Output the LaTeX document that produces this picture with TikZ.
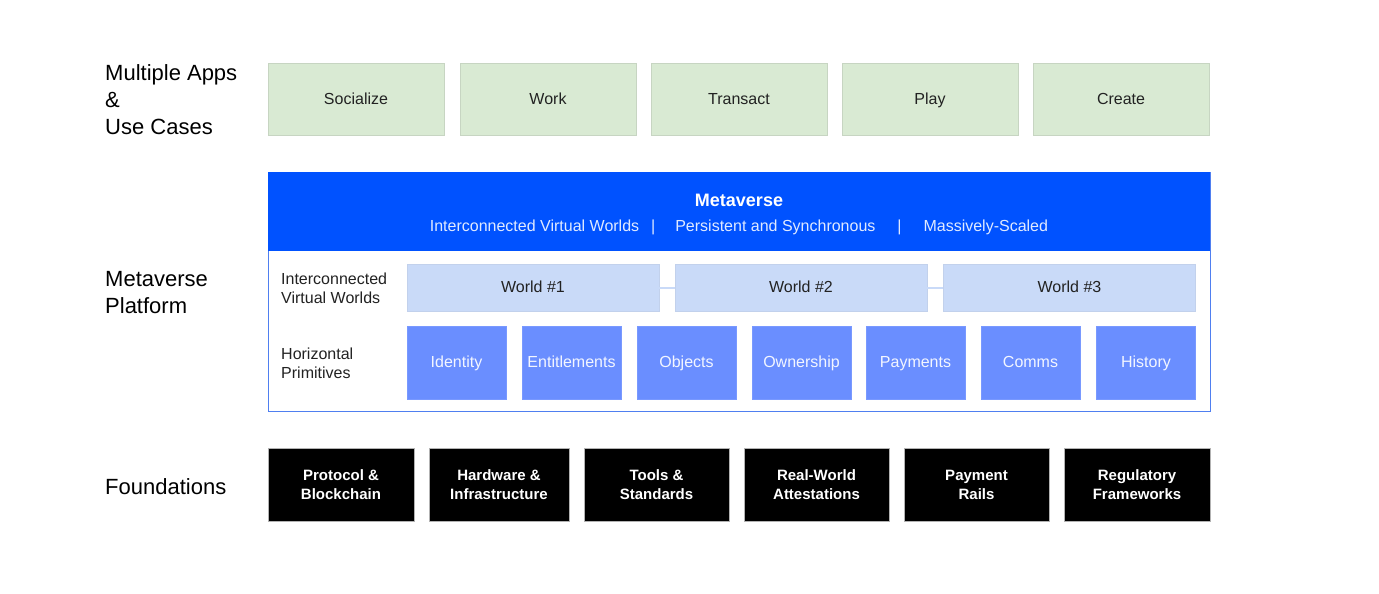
\documentclass[tikz,border=0pt]{standalone}
\usepackage{fontspec}
\setmainfont{Liberation Sans}
\usetikzlibrary{positioning}
\definecolor{appgreen}{HTML}{D9EAD3}
\definecolor{metablue}{HTML}{0052FF}
\definecolor{worldblue}{HTML}{C9DAF8}
\definecolor{primblue}{HTML}{6A8EFF}
\definecolor{edgeblue}{HTML}{4F7FF0}
\definecolor{darktext}{HTML}{222222}
\newcommand{\fs}[2]{\fontsize{#1}{#2}\selectfont}
\tikzset{
  layerlabel/.style={anchor=west,align=left,inner sep=0pt,text=black,font=\fs{22}{27}},
  rowlabel/.style={anchor=west,align=left,inner sep=0pt,text=darktext,font=\fs{16}{19}},
  onelabel/.style={text height=12.5pt,text depth=2.5pt},
  appbox/.style={onelabel,fill=appgreen,draw=appgreen!80!gray,line width=0.4pt,minimum width=176pt,minimum height=72pt,inner sep=0pt,text=darktext,font=\fs{16}{19}},
  worldbox/.style={onelabel,fill=worldblue,draw=worldblue!90!gray,line width=0.4pt,minimum width=252pt,minimum height=47pt,inner sep=0pt,text=darktext,font=\fs{16}{19}},
  primbox/.style={onelabel,fill=primblue,draw=primblue!90!white,line width=0.4pt,minimum width=99pt,minimum height=73pt,inner sep=0pt,text=white!92!primblue,font=\fs{16}{19}},
  foundbox/.style={fill=black,draw=gray!60,line width=0.4pt,minimum height=73pt,inner sep=0pt,align=center,text=white,font=\bfseries\fs{15}{19}},
  worldlink/.style={draw=worldblue,line width=2pt}
}
\begin{document}
\begin{tikzpicture}[x=1pt,y=-1pt]
      \useasboundingbox[fill=white] (0,0) rectangle (1379,594);

      % left column
      \node[layerlabel] (applabel) at (105,99.5) {Multiple Apps\\\&\\Use Cases};
      \node[layerlabel] (platlabel) at (105,293) {Metaverse\\Platform};
      \node[layerlabel] (foundlabel) at (105,486.5) {Foundations};

      % apps
      \node[appbox] (socialize) at (356,99) {Socialize};
      \node[appbox] (work) at (548,99) {Work};
      \node[appbox] (transact) at (739,99) {Transact};
      \node[appbox] (play) at (930,99) {Play};
      \node[appbox] (create) at (1121,99) {Create};

      % metaverse platform
      \draw[edgeblue,fill=white,line width=1pt] (268,172) rectangle (1210,411);
      \fill[metablue] (268,172) rectangle (1210,251);
      \node[text=white,font=\bfseries\fs{18}{22},inner sep=0pt] (metatitle) at (739,200.5) {Metaverse};
      \node[text=white!88!metablue,font=\fs{16}{19},inner sep=0pt] (metasub) at (739,227)
        {Interconnected Virtual Worlds\hspace{12pt}|\hspace{20pt}Persistent and Synchronous\hspace{22pt}|\hspace{22pt}Massively-Scaled};

      \node[rowlabel] (worldslabel) at (281,288) {Interconnected\\Virtual Worlds};
      \node[rowlabel] (primlabel) at (281,363) {Horizontal\\Primitives};

      \node[worldbox] (world1) at (533,287.5) {World \#1};
      \node[worldbox] (world2) at (801,287.5) {World \#2};
      \node[worldbox] (world3) at (1069.5,287.5) {World \#3};
      \draw[worldlink] (world1.east) -- (world2.west);
      \draw[worldlink] (world2.east) -- (world3.west);

      \node[primbox] (identity) at (456.5,362.5) {Identity};
      \node[primbox] (entitlements) at (571.5,362.5) {Entitlements};
      \node[primbox] (objects) at (686.5,362.5) {Objects};
      \node[primbox] (ownership) at (801.5,362.5) {Ownership};
      \node[primbox] (payments) at (915.5,362.5) {Payments};
      \node[primbox] (comms) at (1030.5,362.5) {Comms};
      \node[primbox] (history) at (1146,362.5) {History};

      % foundations
      \node[foundbox,minimum width=146pt] (protocol) at (341,484.5) {Protocol \&\\Blockchain};
      \node[foundbox,minimum width=140pt] (hardware) at (499,484.5) {Hardware \&\\Infrastructure};
      \node[foundbox,minimum width=145pt] (tools) at (656.5,484.5) {Tools \&\\Standards};
      \node[foundbox,minimum width=145pt] (realworld) at (816.5,484.5) {Real-World\\Attestations};
      \node[foundbox,minimum width=145pt] (rails) at (976.5,484.5) {Payment\\Rails};
      \node[foundbox,minimum width=146pt] (regulatory) at (1137,484.5) {Regulatory\\Frameworks};
    \end{tikzpicture}
\end{document}
